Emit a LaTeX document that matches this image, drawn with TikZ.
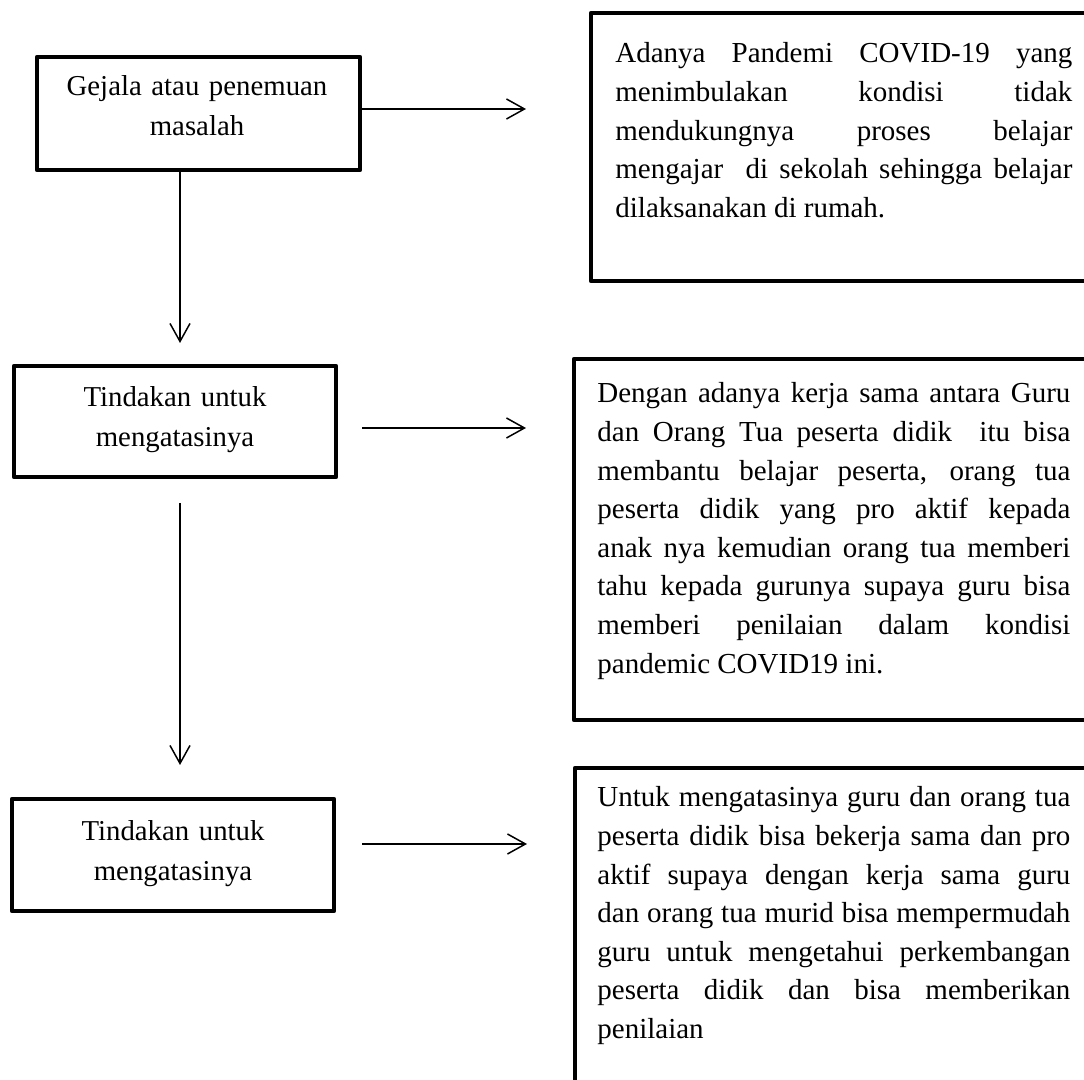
\documentclass[tikz,border=0pt]{standalone}
\usepackage{fontspec}
\setmainfont{Liberation Serif}
\usepackage{tikz}
\usetikzlibrary{arrows.meta,fit}

\begin{document}
\begin{tikzpicture}[x=0.5pt,y=-0.5pt,
    box/.style={draw,line width=2.2pt,line join=round,inner sep=0pt},
    ltext/.style={text width=160pt,align=center,inner sep=0pt,
      font=\fontsize{14.4}{20}\selectfont},
    rtext/.style={inner sep=0pt,align=justify,font=\fontsize{14.5}{19.3}\selectfont},
    arr/.style={line width=0.75pt,-{Straight Barb[length=9pt,width=10pt,line width=0.75pt]}}]
          \useasboundingbox (0,0) rectangle (1084,1080);
          \clip (0,0) rectangle (1084,1080);
          \node[box,fit={(37,57) (360,170)}] (b1) {};
          \node[box,fit={(14,366) (336,477)}] (b2) {};
          \node[box,fit={(12,799) (334,911)}] (b3) {};
          \node[box,fit={(591,13) (1110,281)}] (r1) {};
          \node[box,fit={(574,359) (1110,720)}] (r2) {};
          \node[box,fit={(575,768) (1110,1110)}] (r3) {};
          \node[ltext,anchor=base] (t1) at (197,96) {Gejala atau penemuan\\masalah};
          \node[ltext,anchor=base] (t2) at (175,407) {Tindakan untuk\\mengatasinya};
          \node[ltext,anchor=base] (t3) at (173,841) {Tindakan untuk\\mengatasinya};
          \node[rtext,text width=228.5pt,anchor=base west] (p1) at (615,63) {Adanya Pandemi COVID-19 yang\linebreak
            menimbulakan kondisi tidak\linebreak
            mendukungnya proses belajar\linebreak
            mengajar\ \ di sekolah sehingga belajar\linebreak
            dilaksanakan di rumah.};
          \node[rtext,text width=236.5pt,anchor=base west] (p2) at (597,403) {Dengan adanya kerja sama antara Guru\linebreak
            dan Orang Tua peserta didik\ \ itu bisa\linebreak
            membantu belajar peserta, orang tua\linebreak
            peserta didik yang pro aktif kepada\linebreak
            anak nya kemudian orang tua memberi\linebreak
            tahu kepada gurunya supaya guru bisa\linebreak
            memberi penilaian dalam kondisi\linebreak
            pandemic COVID19 ini.};
          \node[rtext,text width=236.5pt,anchor=base west] (p3) at (597,807) {Untuk mengatasinya guru dan orang tua\linebreak
            peserta didik bisa bekerja sama dan pro\linebreak
            aktif supaya dengan kerja sama guru\linebreak
            dan orang tua murid bisa mempermudah\linebreak
            guru untuk mengetahui perkembangan\linebreak
            peserta didik dan bisa memberikan\linebreak
            penilaian};
          \coordinate (a1) at (526,109);
          \coordinate (s2) at (362,428);
          \coordinate (a2) at (526,428);
          \coordinate (s3) at (362,844);
          \coordinate (a3) at (527,844);
          \coordinate (d1) at (180,343);
          \coordinate (e2) at (180,503);
          \coordinate (d2) at (180,765);
          \draw[arr] (b1.east |- a1) -- (a1);
          \draw[arr] (s2) -- (a2);
          \draw[arr] (s3) -- (a3);
          \draw[arr] (b1.south -| d1) -- (d1);
          \draw[arr] (e2) -- (d2);
        \end{tikzpicture}
\end{document}
